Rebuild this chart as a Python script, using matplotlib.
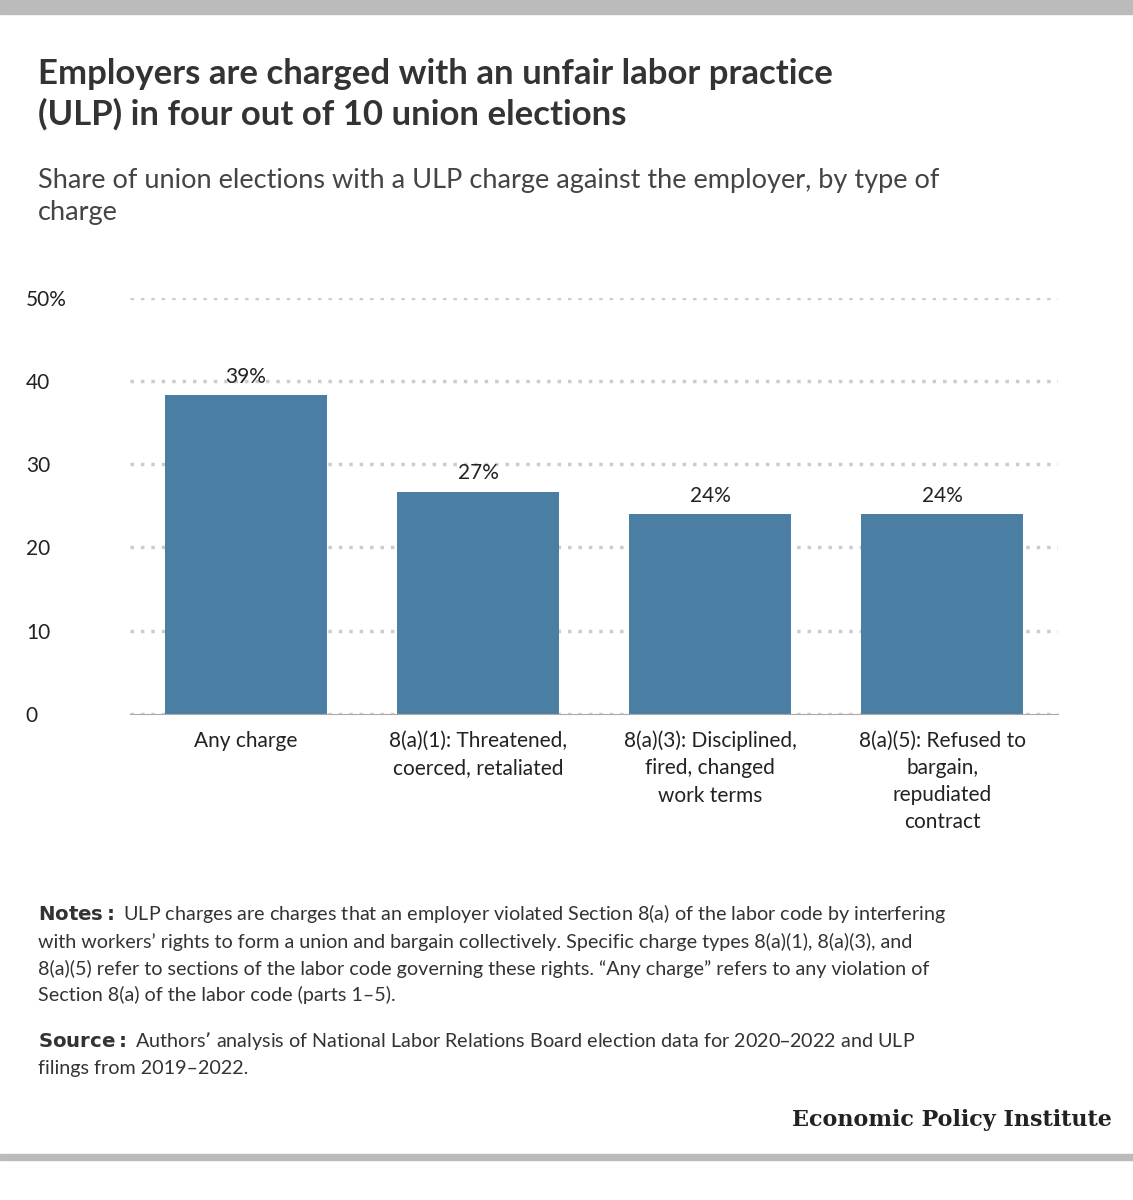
import matplotlib.pyplot as plt
from matplotlib.patches import Rectangle

plt.rcParams['font.family'] = ['Lato', 'DejaVu Sans']

categories = ["Any charge", "8(a)(1): Threatened,\ncoerced, retaliated",
              "8(a)(3): Disciplined,\nfired, changed\nwork terms",
              "8(a)(5): Refused to\nbargain,\nrepudiated\ncontract"]
shares = [38.3, 26.7, 24.0, 24.0]
labels = ["39%", "27%", "24%", "24%"]
yticks = [0, 10, 20, 30, 40, 50]
ytick_labels = ["0", "10", "20", "30", "40", "50%"]

fig = plt.figure(figsize=(11.33, 12), dpi=100)
ax = fig.add_axes([0.1147, 0.405, 0.8193, 0.347])

x = range(len(categories))
ax.bar(x, shares, width=0.70, color="#4a7fa3", zorder=3)
for i, (v, lab) in enumerate(zip(shares, labels)):
    ax.text(i, v + 1.0, lab, ha="center", va="bottom", fontsize=15, color="#222222")

ax.set_xlim(-0.5, 3.5)
ax.set_ylim(0, 50)
ax.set_yticks(yticks)
ax.set_yticklabels(ytick_labels, fontsize=15, color="#222222")
for t in ax.get_yticklabels():
    t.set_horizontalalignment("left")
ax.tick_params(axis="y", length=0, pad=75)
ax.set_xticks(list(x))
ax.set_xticklabels(categories, fontsize=15, color="#222222", linespacing=1.45, va="top")
ax.tick_params(axis="x", length=0, pad=12)
ax.grid(axis="y", color="#cccccc", linestyle=(0, (1, 2)), linewidth=2.5, zorder=0)
for s in ["top", "right", "left"]:
    ax.spines[s].set_visible(False)
ax.spines["bottom"].set_color("#aaaaaa")
ax.spines["bottom"].set_zorder(4)

# gray frame bars
fig.patches.append(Rectangle((0, 1 - 14/1200), 1, 14/1200, transform=fig.transFigure, color="#bbbbbb"))
fig.patches.append(Rectangle((0, 1 - 1160/1200), 1, 6/1200, transform=fig.transFigure, color="#bbbbbb"))

fig.text(38/1133, 1 - 58/1200, "Employers are charged with an unfair labor practice\n(ULP) in four out of 10 union elections",
         fontsize=25, fontweight="bold", color="#333333", va="top", linespacing=1.3)
fig.text(38/1133, 1 - 168/1200, "Share of union elections with a ULP charge against the employer, by type of\ncharge",
         fontsize=19.5, color="#444444", va="top", linespacing=1.35)

fig.text(38/1133, 1 - 902/1200,
         r"$\bf{Notes:}$ ULP charges are charges that an employer violated Section 8(a) of the labor code by interfering"
         "\nwith workers’ rights to form a union and bargain collectively. Specific charge types 8(a)(1), 8(a)(3), and"
         "\n8(a)(5) refer to sections of the labor code governing these rights. “Any charge” refers to any violation of"
         "\nSection 8(a) of the labor code (parts 1–5).",
         fontsize=14.2, color="#333333", va="top", linespacing=1.55)
fig.text(38/1133, 1 - 1030/1200,
         r"$\bf{Source:}$ Authors’ analysis of National Labor Relations Board election data for 2020–2022 and ULP"
         "\nfilings from 2019–2022.",
         fontsize=14.2, color="#333333", va="top", linespacing=1.55)
fig.text(1112/1133, 1 - 1120/1200, "Economic Policy Institute", fontsize=16, fontweight="bold",
         family=["DejaVu Serif"], color="#222222", ha="right", va="center")

fig.savefig("out.png", dpi=100)
